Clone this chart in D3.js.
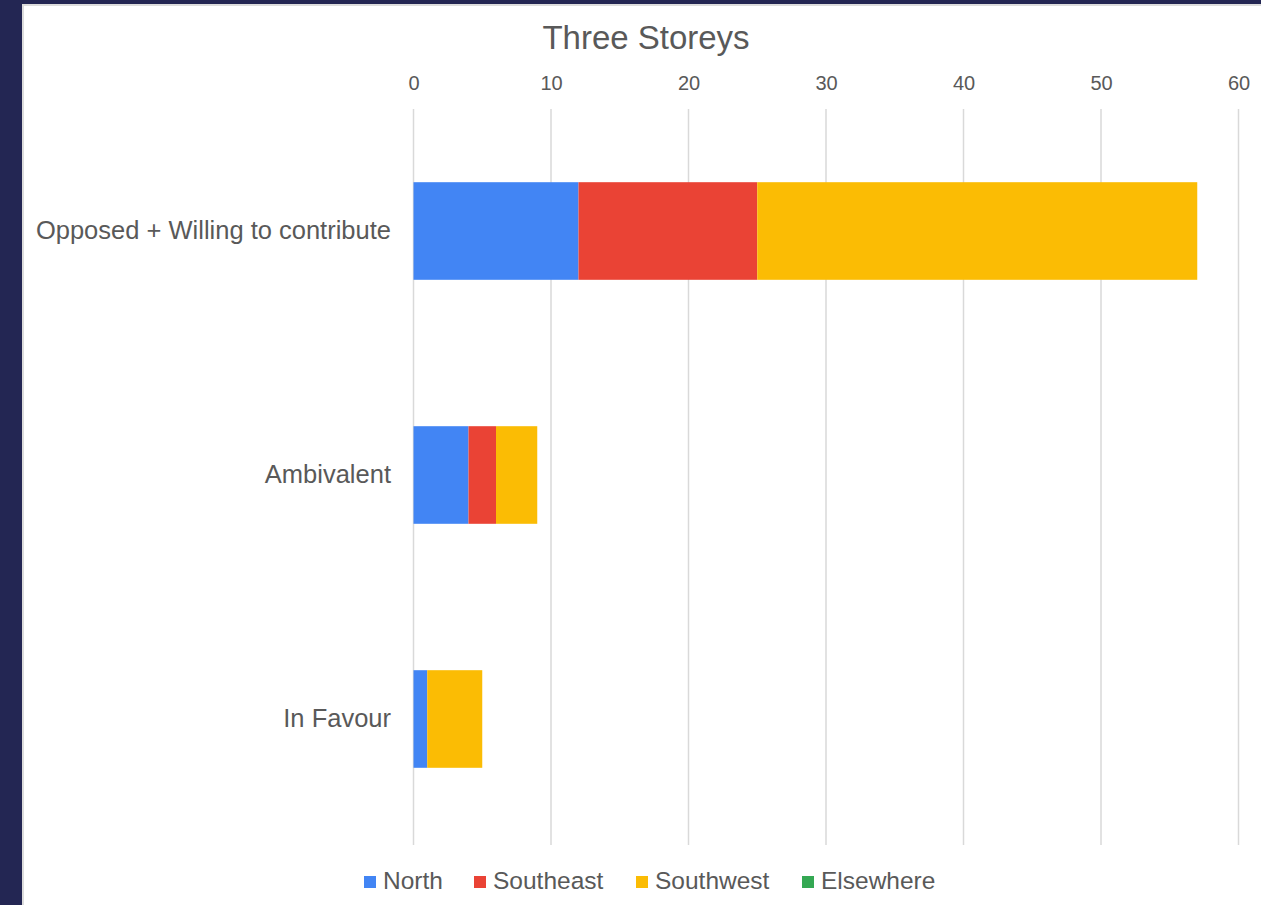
<!DOCTYPE html>
<html>
<head>
<meta charset="utf-8">
<script src="https://cdn.jsdelivr.net/npm/d3@7"></script>
<style>
  html, body { margin: 0; padding: 0; background: #232653; }
  svg { display: block; }
  text { font-family: "Liberation Sans", Arial, sans-serif; fill: #595959; }
</style>
</head>
<body>
<div id="chart"></div>
<script>
var categories = ["Opposed + Willing to contribute", "Ambivalent", "In Favour"];
var seriesNames = ["North", "Southeast", "Southwest", "Elsewhere"];
var seriesColors = ["#4285f4", "#ea4335", "#fbbc04", "#34a853"];
var north     = [12, 4, 1];
var southeast = [13, 2, 0];
var southwest = [32, 3, 4];
var elsewhere = [0, 0, 0];
var xTicks = [0, 10, 20, 30, 40, 50, 60];

var width = 1261, height = 905;

var rows = categories.map(function(c, i){
  return { cat: c, North: north[i], Southeast: southeast[i], Southwest: southwest[i], Elsewhere: elsewhere[i] };
});

var svg = d3.select("#chart").append("svg")
  .attr("width", width).attr("height", height);

// white panel with light border
svg.append("rect").attr("x", 22).attr("y", 4).attr("width", width - 22).attr("height", height - 4)
  .attr("fill", "#dcdcdc");
svg.append("rect").attr("x", 24).attr("y", 6).attr("width", width - 24).attr("height", height - 6)
  .attr("fill", "#ffffff");

var x = d3.scaleLinear().domain([0, 60]).range([413.5, 1238.5]);
var y = d3.scaleBand().domain(categories).range([109, 841]).paddingInner(0.6).paddingOuter(0.3);

// vertical grid
svg.append("g")
  .selectAll("line").data(xTicks).enter().append("line")
  .attr("x1", function(d){ return x(d); }).attr("x2", function(d){ return x(d); })
  .attr("y1", 109).attr("y2", 845)
  .attr("stroke", "#d9d9d9").attr("stroke-width", 1.5);

// top axis labels
var xAxis = svg.append("g")
  .attr("transform", "translate(0,90)")
  .call(d3.axisTop(x).tickValues(xTicks).tickSize(0).tickPadding(0));
xAxis.select(".domain").remove();
xAxis.selectAll("text").style("font-size", "20px").attr("fill", "#595959")
  .attr("font-family", "Liberation Sans, Arial, sans-serif");

// stacked bars
var stack = d3.stack().keys(seriesNames);
var color = d3.scaleOrdinal().domain(seriesNames).range(seriesColors);

svg.append("g").selectAll("g").data(stack(rows)).enter().append("g")
  .attr("fill", function(d){ return color(d.key); })
  .selectAll("rect").data(function(d){ return d; }).enter().append("rect")
  .attr("x", function(d){ return x(d[0]); })
  .attr("y", function(d){ return y(d.data.cat); })
  .attr("width", function(d){ return x(d[1]) - x(d[0]); })
  .attr("height", y.bandwidth());

// category labels
var yAxis = svg.append("g")
  .attr("transform", "translate(391,0)")
  .call(d3.axisLeft(y).tickSize(0).tickPadding(0));
yAxis.select(".domain").remove();
yAxis.selectAll("text").style("font-size", "25.5px").attr("fill", "#595959")
  .attr("font-family", "Liberation Sans, Arial, sans-serif");

// title
svg.append("text").attr("x", 646).attr("y", 49).attr("text-anchor", "middle")
  .style("font-size", "33px").text("Three Storeys");

// legend
var legendX = [364, 474, 636, 802];
var legend = svg.append("g").selectAll("g").data(seriesNames).enter().append("g")
  .attr("transform", function(d, i){ return "translate(" + legendX[i] + ",876)"; });
legend.append("rect").attr("width", 12).attr("height", 12)
  .attr("fill", function(d){ return color(d); });
legend.append("text").attr("x", 19).attr("y", 13).style("font-size", "24.5px")
  .text(function(d){ return d; });
</script>
</body>
</html>
